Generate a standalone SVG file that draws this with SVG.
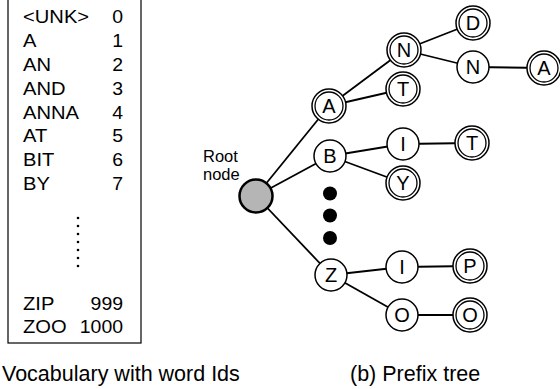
<svg xmlns="http://www.w3.org/2000/svg" width="560" height="389" viewBox="0 0 560 389">
<style>
text{font-family:"Liberation Sans",Arial,sans-serif;fill:#000}
.v{font-size:18px}
.n{text-anchor:end}
.cap{font-size:21.5px}
.lbl{font-size:20px;text-anchor:middle}
.edge{stroke:#000;stroke-width:1.8;fill:none}
.c{fill:#fff;stroke:#000;stroke-width:1.5}
.ci{fill:none;stroke:#000;stroke-width:1.3}
</style>
<rect width="560" height="389" fill="#fff"/>
<g id="vocab">
<rect x="8" y="-2" width="133" height="345" fill="none" stroke="#000" stroke-width="1.2"/>
<g transform="translate(23,0) scale(1.12,1)">
<text class="v" x="0" y="23.5">&lt;UNK&gt;</text>
<text class="v" x="0" y="47.3">A</text>
<text class="v" x="0" y="71.1">AN</text>
<text class="v" x="0" y="94.9">AND</text>
<text class="v" x="0" y="118.7">ANNA</text>
<text class="v" x="0" y="142.5">AT</text>
<text class="v" x="0" y="166.3">BIT</text>
<text class="v" x="0" y="190.1">BY</text>
<text class="v" x="0" y="310">ZIP</text>
<text class="v" x="0" y="333.5">ZOO</text>
</g>
<g transform="translate(123,0) scale(1.08,1)">
<text class="v n" x="0" y="23.5">0</text>
<text class="v n" x="0" y="47.3">1</text>
<text class="v n" x="0" y="71.1">2</text>
<text class="v n" x="0" y="94.9">3</text>
<text class="v n" x="0" y="118.7">4</text>
<text class="v n" x="0" y="142.5">5</text>
<text class="v n" x="0" y="166.3">6</text>
<text class="v n" x="0" y="190.1">7</text>
<text class="v n" x="0" y="310">999</text>
<text class="v n" x="0" y="333.5">1000</text>
</g>
<g fill="#000"><circle cx="78" cy="218" r="1.3"/><circle cx="78" cy="226" r="1.3"/><circle cx="78" cy="234" r="1.3"/><circle cx="78" cy="242" r="1.3"/><circle cx="78" cy="250" r="1.3"/><circle cx="78" cy="258" r="1.3"/><circle cx="78" cy="266" r="1.3"/></g>
</g>
<text class="cap" x="2" y="381">Vocabulary with word Ids</text>
<text class="cap" x="350" y="381">(b) Prefix tree</text>
<text x="203" y="161.7" font-size="16.5">Root</text>
<text x="203" y="179.5" font-size="16.5">node</text>
<g id="connectors" class="edge">
<line x1="256" y1="196" x2="329" y2="106"/>
<line x1="256" y1="196" x2="330" y2="156"/>
<line x1="256" y1="196" x2="331" y2="275"/>
<line x1="329" y1="106" x2="404" y2="50"/>
<line x1="329" y1="106" x2="403" y2="89"/>
<line x1="330" y1="156" x2="403" y2="144"/>
<line x1="330" y1="156" x2="403" y2="183"/>
<line x1="404" y1="50" x2="473" y2="23"/>
<line x1="404" y1="50" x2="473" y2="67"/>
<line x1="473" y1="67" x2="544" y2="68"/>
<line x1="403" y1="144" x2="472" y2="143"/>
<line x1="331" y1="275" x2="402" y2="267"/>
<line x1="331" y1="275" x2="402" y2="315"/>
<line x1="402" y1="267" x2="470" y2="266"/>
<line x1="402" y1="315" x2="470" y2="315"/>
</g>
<g id="root"><circle cx="256" cy="196" r="16.5" fill="#b5b5b5" stroke="#000" stroke-width="2.5"/></g>
<g id="dots" fill="#000"><circle cx="330" cy="193.5" r="7"/><circle cx="330" cy="215.5" r="7"/><circle cx="330" cy="238" r="7"/></g>
<g id="nA"><circle class="c" cx="329" cy="106" r="17"/><circle class="ci" cx="329" cy="106" r="14"/><text class="lbl" x="329" y="113.2">A</text></g>
<g id="nB"><circle class="c" cx="330" cy="156" r="16"/><text class="lbl" x="330" y="163.2">B</text></g>
<g id="nZ"><circle class="c" cx="331" cy="275" r="16"/><text class="lbl" x="331" y="282.2">Z</text></g>
<g id="nAN"><circle class="c" cx="404" cy="50" r="17"/><circle class="ci" cx="404" cy="50" r="14"/><text class="lbl" x="404" y="57.2">N</text></g>
<g id="nAT"><circle class="c" cx="403" cy="89" r="17"/><circle class="ci" cx="403" cy="89" r="14"/><text class="lbl" x="403" y="96.2">T</text></g>
<g id="nBI"><circle class="c" cx="403" cy="144" r="16"/><text class="lbl" x="403" y="151.2">I</text></g>
<g id="nBY"><circle class="c" cx="403" cy="183" r="17"/><circle class="ci" cx="403" cy="183" r="14"/><text class="lbl" x="403" y="190.2">Y</text></g>
<g id="nAND"><circle class="c" cx="473" cy="23" r="17"/><circle class="ci" cx="473" cy="23" r="14"/><text class="lbl" x="473" y="30.2">D</text></g>
<g id="nANN"><circle class="c" cx="473" cy="67" r="16"/><text class="lbl" x="473" y="74.2">N</text></g>
<g id="nANNA"><circle class="c" cx="544" cy="68" r="17"/><circle class="ci" cx="544" cy="68" r="14"/><text class="lbl" x="544" y="75.2">A</text></g>
<g id="nBIT"><circle class="c" cx="472" cy="143" r="17"/><circle class="ci" cx="472" cy="143" r="14"/><text class="lbl" x="472" y="150.2">T</text></g>
<g id="nZI"><circle class="c" cx="402" cy="267" r="16"/><text class="lbl" x="402" y="274.2">I</text></g>
<g id="nZO"><circle class="c" cx="402" cy="315" r="16"/><text class="lbl" x="402" y="322.2">O</text></g>
<g id="nZIP"><circle class="c" cx="470" cy="266" r="17"/><circle class="ci" cx="470" cy="266" r="14"/><text class="lbl" x="470" y="273.2">P</text></g>
<g id="nZOO"><circle class="c" cx="470" cy="315" r="17"/><circle class="ci" cx="470" cy="315" r="14"/><text class="lbl" x="470" y="322.2">O</text></g>
</svg>
